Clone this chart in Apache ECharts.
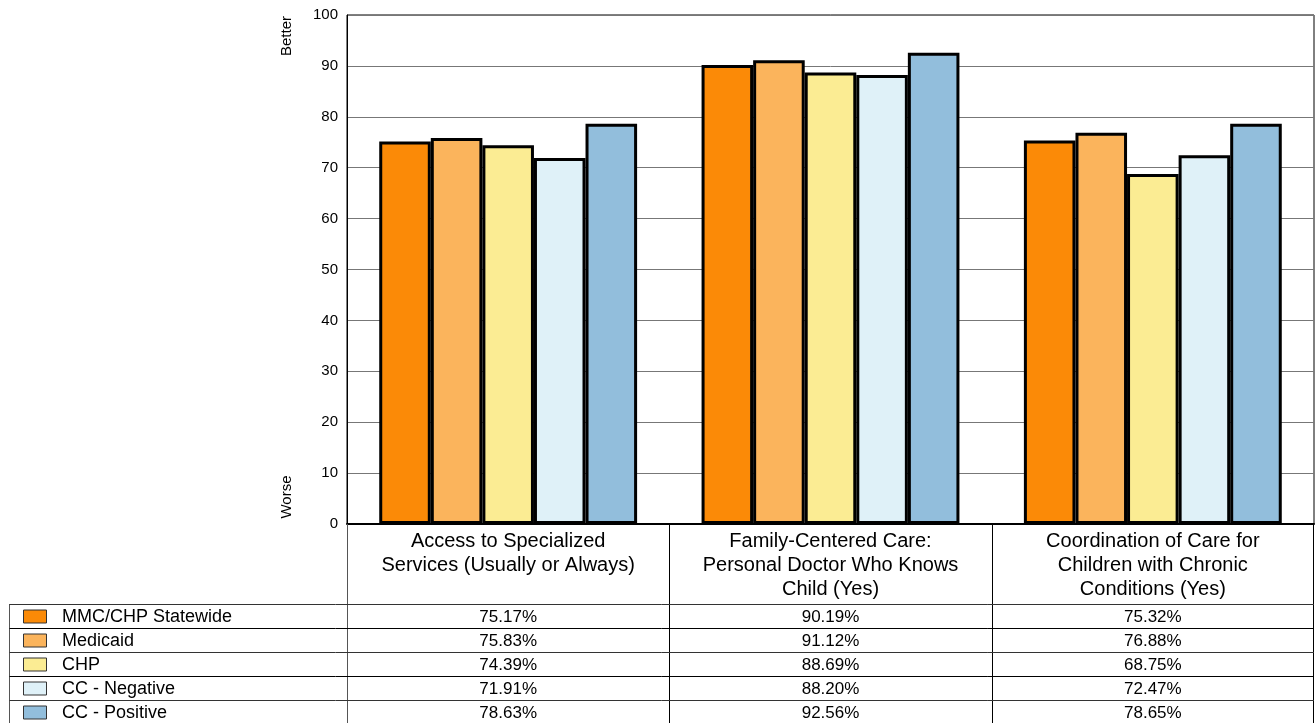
<!DOCTYPE html>
<html>
<head>
<meta charset="utf-8">
<script src="https://cdn.jsdelivr.net/npm/echarts@6/dist/echarts.min.js"></script>
<style>
html, body { margin: 0; padding: 0; background: #fff; }
#main { width: 1315px; height: 723px; }
</style>
</head>
<body>
<div id="main"></div>
<script>
var categories = [
  'Access to Specialized\nServices (Usually or Always)',
  'Family-Centered Care:\nPersonal Doctor Who Knows\nChild (Yes)',
  'Coordination of Care for\nChildren with Chronic\nConditions (Yes)'
];
var seriesNames = ['MMC/CHP Statewide', 'Medicaid', 'CHP', 'CC - Negative', 'CC - Positive'];
var statewide = [75.17, 90.19, 75.32];
var medicaid = [75.83, 91.12, 76.88];
var chp = [74.39, 88.69, 68.75];
var ccNegative = [71.91, 88.20, 72.47];
var ccPositive = [78.63, 92.56, 78.65];
var yTicks = [0, 10, 20, 30, 40, 50, 60, 70, 80, 90, 100];

var allValues = [statewide, medicaid, chp, ccNegative, ccPositive];
var colors = ['#fb8a07', '#fbb45c', '#fbec93', '#dff1f8', '#92bedc'];
var font = 'Arial, "Liberation Sans", sans-serif';

var chart = echarts.init(document.getElementById('main'));

// plot box
var gLeft = 347, gRight = 1314, gTop = 15, gBottom = 524;
var tableTop = 604, rowH = 24, tableLeft = 9.5;
var colW = (gRight - gLeft) / categories.length;

var series = seriesNames.map(function (name, i) {
  return {
    name: name,
    type: 'bar',
    data: allValues[i],
    barGap: '0%',
    barCategoryGap: '20%',
    itemStyle: { color: colors[i], borderColor: '#000', borderWidth: 3 }
  };
});

var graphics = [];
function line(x1, y1, x2, y2, color) {
  graphics.push({
    type: 'line',
    shape: { x1: x1, y1: y1, x2: x2, y2: y2 },
    style: { stroke: color || '#000', lineWidth: 1 },
    z: 10
  });
}

// table grid
line(gLeft + 0.5, gBottom, gLeft + 0.5, 723, '#555');
for (var c = 1; c < categories.length; c++) {
  var x = Math.round(gLeft + colW * c) + 0.5;
  line(x, gBottom, x, 723);
}
line(gRight - 0.5, gBottom, gRight - 0.5, 723);
line(tableLeft, tableTop, tableLeft, 723, '#555');
for (var r = 0; r < seriesNames.length; r++) {
  var y = tableTop + r * rowH + 0.5;
  line(tableLeft, y, gRight, y, r % 2 ? '#000' : '#333');
}

// legend rows and values
seriesNames.forEach(function (name, i) {
  var cy = tableTop + i * rowH + rowH / 2;
  graphics.push({
    type: 'rect',
    shape: { x: 23.5, y: cy - 6, width: 23, height: 13 },
    style: { fill: colors[i], stroke: '#333', lineWidth: 1 },
    z: 10
  });
  graphics.push({
    type: 'text',
    style: { x: 62, y: cy + 1, text: name, font: '18px ' + font, fill: '#000', textVerticalAlign: 'middle' },
    z: 10
  });
  allValues[i].forEach(function (v, j) {
    graphics.push({
      type: 'text',
      style: {
        x: gLeft + colW * (j + 0.5), y: cy + 1,
        text: v.toFixed(2) + '%',
        font: '17px ' + font, fill: '#000',
        textAlign: 'center', textVerticalAlign: 'middle'
      },
      z: 10
    });
  });
});

// Better / Worse
graphics.push({
  type: 'text', x: 287, y: 36, rotation: Math.PI / 2,
  style: { text: 'Better', font: '15px ' + font, fill: '#000', textAlign: 'center', textVerticalAlign: 'middle' }
});
graphics.push({
  type: 'text', x: 287, y: 497, rotation: Math.PI / 2,
  style: { text: 'Worse', font: '15px ' + font, fill: '#000', textAlign: 'center', textVerticalAlign: 'middle' }
});

var option = {
  backgroundColor: '#fff',
  animation: false,
  textStyle: { fontFamily: font },
  grid: {
    left: gLeft, top: gTop, width: gRight - gLeft, height: gBottom - gTop,
    show: true, borderColor: '#000', borderWidth: 1
  },
  xAxis: {
    type: 'category',
    data: categories,
    axisLine: { lineStyle: { color: '#000', width: 2 } },
    axisTick: { show: false },
    axisLabel: { fontSize: 20, lineHeight: 24, color: '#000', margin: 5, interval: 0, fontFamily: font }
  },
  yAxis: {
    type: 'value',
    min: yTicks[0],
    max: yTicks[yTicks.length - 1],
    interval: 10,
    axisLine: { show: true, lineStyle: { color: '#000' } },
    axisTick: { show: false },
    axisLabel: { fontSize: 15, color: '#000', margin: 9, fontFamily: font },
    splitLine: { lineStyle: { color: '#777', width: 1 } }
  },
  series: series,
  graphic: graphics
};
chart.setOption(option);
</script>
</body>
</html>
